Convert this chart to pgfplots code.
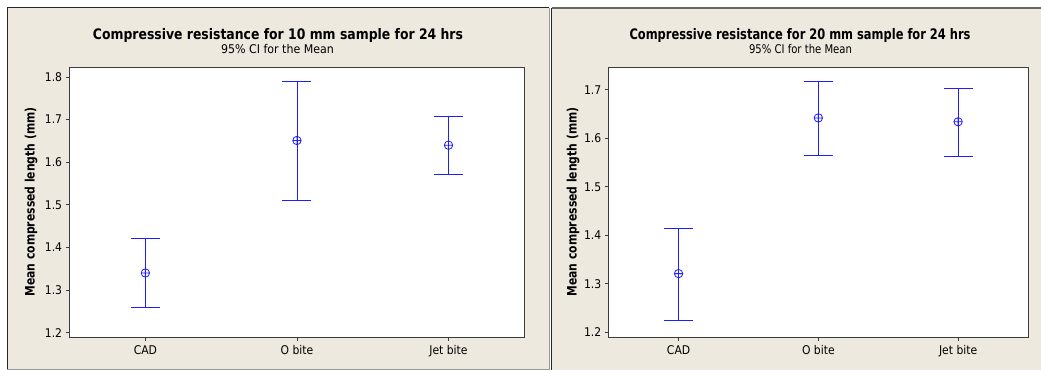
\documentclass[border=0pt]{standalone}
\usepackage{fontspec}
\setmainfont{DejaVu Sans Condensed}
\usepackage{graphicx}
\usepackage{pgfplots}
\pgfplotsset{compat=1.18}
\definecolor{bg}{RGB}{237,233,223}
\definecolor{ciblue}{RGB}{30,30,255}
\definecolor{axgray}{RGB}{60,60,60}
\pgfplotsset{
  ciaxis/.style={
    anchor=south west, scale only axis, height=270pt,
    xmin=0.5, xmax=3.5,
    xtick={1,2,3}, xticklabels={CAD,O bite,Jet bite},
    tick align=outside, tick pos=left,
    major tick length=4pt,
    axis line style={axgray, line width=0.9pt},
    every tick/.style={axgray, line width=0.7pt},
    axis background/.style={fill=white},
    tick label style={font=\fontsize{12}{14}\selectfont},
    /pgf/number format/assume math mode=true,
    yticklabel style={/pgf/number format/.cd, fixed, fixed zerofill, precision=1},
    xticklabel style={yshift=-1pt},
    clip=false,
  },
  ciplot/.style={
    ciblue, line width=0.9pt, only marks, mark=oplus,
    mark options={line width=0.8pt, ciblue}, mark size=4.2pt,
    error bars/.cd, y dir=both, y explicit,
    error mark=|, error bar style={line width=0.9pt, ciblue},
    error mark options={line width=0.9pt, ciblue, mark size=14.5pt},
  },
}
\begin{document}
\begin{tikzpicture}
\useasboundingbox (0,0) rectangle (1041pt,370pt);
% panels
\fill[bg] (7pt,1pt) rectangle (549pt,362pt);
\fill[bg] (551pt,0pt) rectangle (1041pt,362pt);
\draw[black!85, line width=1pt] (7pt,1pt) -- (7pt,362pt) -- (549pt,362pt);
\draw[black!40, line width=1pt] (549pt,362pt) -- (549pt,1pt) -- (7pt,1pt);
\draw[black!85, line width=1pt] (551.5pt,0pt) -- (551.5pt,362pt);
\draw[black!60, line width=1.2pt] (551.5pt,362pt) -- (1041pt,362pt);

\begin{axis}[ciaxis, at={(69.6pt,33pt)}, width=454.7pt,
  ymin=1.1897, ymax=1.8235, ytick={1.2,1.3,1.4,1.5,1.6,1.7,1.8}]
\addplot[ciplot] table[x=x, y=y, y error plus=ep, y error minus=em] {
x y ep em
1 1.340 0.080 0.080
2 1.651 0.139 0.140
3 1.640 0.068 0.069
};
\end{axis}

\begin{axis}[ciaxis, at={(608.7pt,33pt)}, width=419.3pt,
  ymin=1.1903, ymax=1.747, ytick={1.2,1.3,1.4,1.5,1.6,1.7}]
\addplot[ciplot] table[x=x, y=y, y error plus=ep, y error minus=em] {
x y ep em
1 1.321 0.093 0.096
2 1.642 0.076 0.077
3 1.634 0.069 0.072
};
\end{axis}

% titles
\node[anchor=base, inner sep=0pt] at (278pt,330pt)
  {\resizebox{370pt}{\height}{\fontsize{14.5}{17}\selectfont\bfseries Compressive resistance for 10 mm sample for 24 hrs}};
\node[anchor=base, inner sep=0pt] at (277.5pt,316pt)
  {\resizebox{113pt}{\height}{\fontsize{12}{14}\selectfont 95\% CI for the Mean}};
\node[anchor=base, inner sep=0pt] at (800pt,330pt)
  {\resizebox{341pt}{\height}{\fontsize{14.5}{17}\selectfont\bfseries Compressive resistance for 20 mm sample for 24 hrs}};
\node[anchor=base, inner sep=0pt] at (800.5pt,316pt)
  {\resizebox{103pt}{\height}{\fontsize{12}{14}\selectfont 95\% CI for the Mean}};
% y labels
\node[rotate=90, inner sep=0pt] at (31pt,168pt)
  {\resizebox{189pt}{\height}{\fontsize{13}{15}\selectfont\bfseries Mean compressed length (mm)}};
\node[rotate=90, inner sep=0pt] at (573pt,168pt)
  {\resizebox{189pt}{\height}{\fontsize{13}{15}\selectfont\bfseries Mean compressed length (mm)}};
\end{tikzpicture}
\end{document}
